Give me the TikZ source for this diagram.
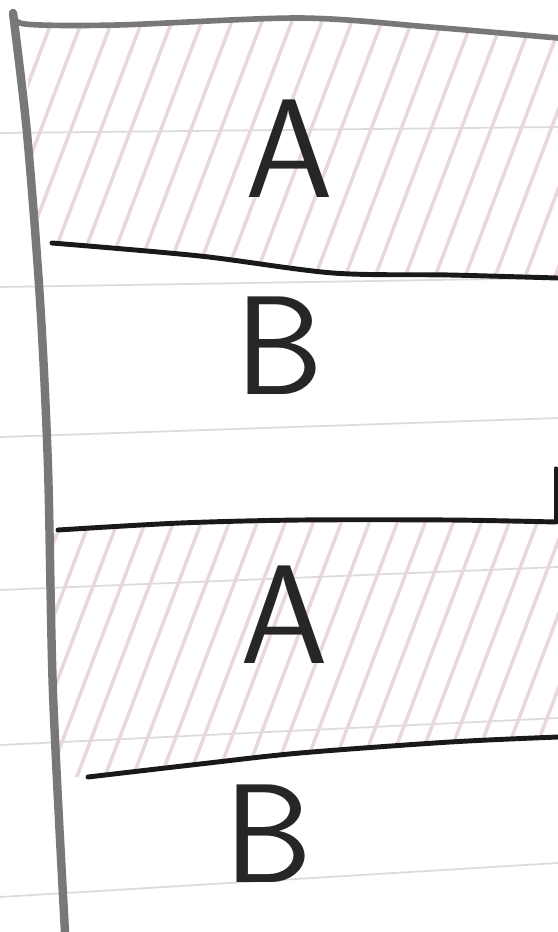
\documentclass[tikz,border=0pt]{standalone}
\usepackage{tikz}
\definecolor{hatchpink}{RGB}{232,216,221}
\definecolor{pencilgray}{RGB}{120,120,120}

\begin{document}
\begin{tikzpicture}[x=0.01cm, y=-0.01cm,
  rule/.style={draw=black!14, line width=0.5pt},
  pencil/.style={draw=pencilgray, line width=2.4pt, line cap=round},
  ink/.style={draw=black!90, line width=1.4pt, line cap=round},
  hatch/.style={draw=hatchpink, line width=1pt},
  letter/.style={font=\sffamily\fontsize{40}{44}\selectfont, text=black!85}]
  \useasboundingbox (0,0) rectangle (558,932);
  % ruled paper
  \foreach \yl/\yr in {133/127, 287/278, 437/418, 590/567, 745/718, 897/863}
    \draw[rule] (0,\yl) -- (558,\yr);
  % hatched A parts
  \begin{scope}
    \clip (25,25) -- (117,25) -- (300,18) -- (558,38) -- (558,278)
      -- (333,273) -- (200,256) -- (36,243) -- cycle;
    \foreach \x in {0,30,...,720}
      \draw[hatch] (\x-110,290) -- (\x,0);
  \end{scope}
  \begin{scope}
    \clip (50,530) -- (300,520) -- (558,522) -- (558,737)
      -- (300,753) -- (88,777) -- (55,777) -- cycle;
    \foreach \x in {10,38,...,760}
      \draw[hatch] (\x-110,800) -- (\x,510);
  \end{scope}
  % frame
  \draw[pencil] plot[smooth] coordinates {(13,13) (27,133) (40,300) (48,467) (53,693) (65,932)};
  \draw[pencil, line width=1.6pt] plot[smooth] coordinates {(13,13) (25,24) (117,25) (300,18) (430,27) (558,38)};
  % dividers
  \draw[ink] plot[smooth] coordinates {(52,243) (200,256) (333,273) (450,275) (558,278)};
  \draw[ink] plot[smooth] coordinates {(58,530) (180,523) (300,520) (450,520) (556,522)};
  \draw[ink, line width=0.9pt] (556,522) -- (556,468);
  \draw[ink] plot[smooth] coordinates {(88,777) (200,764) (300,753) (450,742) (558,737)};
  % labels
  \node[letter] (a1) at (289,149) {A};
  \node[letter] (b1) at (280,346) {B};
  \node[letter] (a2) at (284,615) {A};
  \node[letter] (b2) at (269,834) {B};
\end{tikzpicture}
\end{document}
